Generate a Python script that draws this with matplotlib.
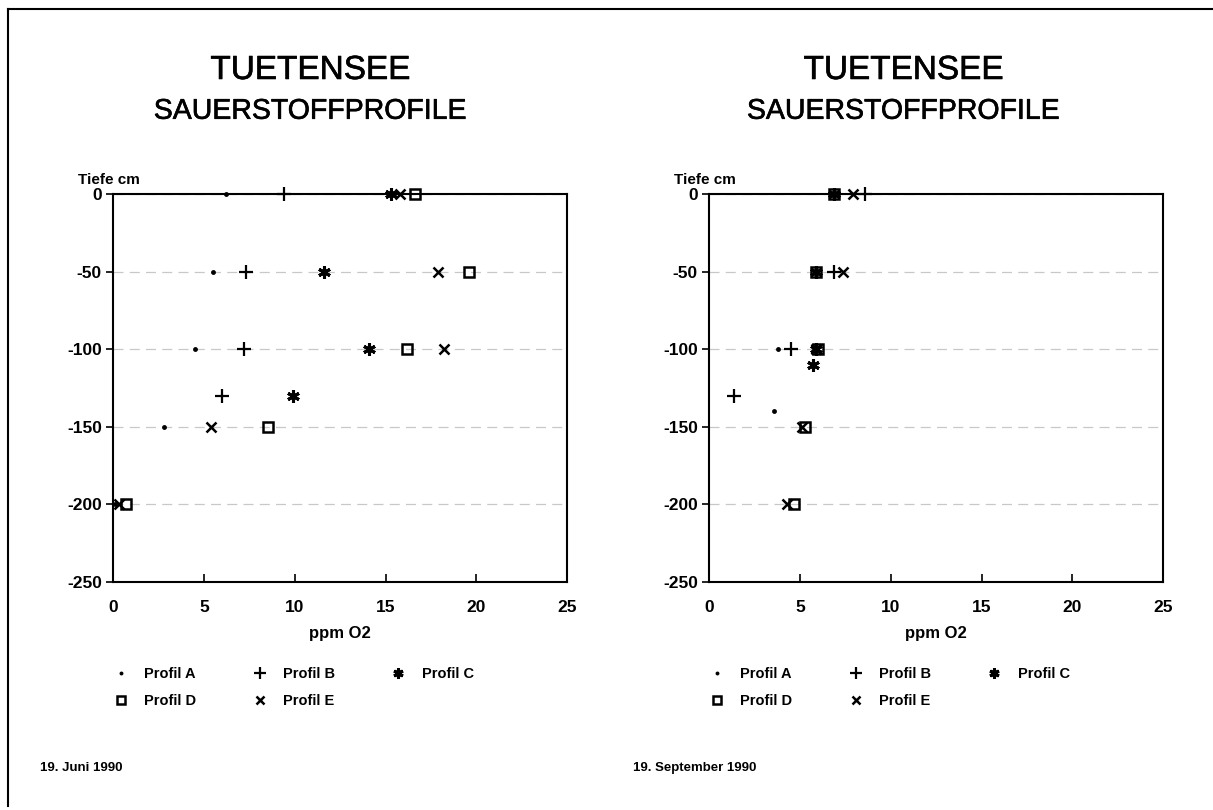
import matplotlib.pyplot as plt
import matplotlib.patheffects as pe
from matplotlib.lines import Line2D

plt.rcParams['font.family'] = ['Liberation Sans', 'DejaVu Sans']

# Daten: Tiefe (cm) und Sauerstoff (ppm O2), 19. Juni 1990
juni_A_tiefe = [0, -50, -100, -150, -200]
juni_A_o2 = [6.2, 5.5, 4.5, 2.8, 0.1]
juni_B_tiefe = [0, -50, -100, -130]
juni_B_o2 = [9.4, 7.3, 7.2, 6.0]
juni_C_tiefe = [0, -50, -100, -130]
juni_C_o2 = [15.3, 11.6, 14.1, 9.9]
juni_D_tiefe = [0, -50, -100, -150, -200]
juni_D_o2 = [16.6, 19.6, 16.2, 8.5, 0.7]
juni_E_tiefe = [0, -50, -100, -150, -200]
juni_E_o2 = [15.8, 17.9, 18.2, 5.4, 0.3]

# 19. September 1990
sept_A_tiefe = [0, -50, -100, -140]
sept_A_o2 = [6.9, 5.9, 3.8, 3.6]
sept_B_tiefe = [0, -50, -100, -130]
sept_B_o2 = [8.6, 6.9, 4.5, 1.4]
sept_C_tiefe = [0, -50, -100, -110]
sept_C_o2 = [6.9, 5.9, 5.9, 5.7]
sept_D_tiefe = [0, -50, -100, -150, -200]
sept_D_o2 = [6.9, 5.9, 6.0, 5.3, 4.7]
sept_E_tiefe = [0, -50, -100, -150, -200]
sept_E_o2 = [7.9, 7.4, 5.9, 5.1, 4.3]

profile_namen = ['Profil A', 'Profil B', 'Profil C', 'Profil D', 'Profil E']
y_ticks = [0, -50, -100, -150, -200, -250]
x_ticks = [0, 5, 10, 15, 20, 25]

juni = [(juni_A_o2, juni_A_tiefe), (juni_B_o2, juni_B_tiefe), (juni_C_o2, juni_C_tiefe),
        (juni_D_o2, juni_D_tiefe), (juni_E_o2, juni_E_tiefe)]
sept = [(sept_A_o2, sept_A_tiefe), (sept_B_o2, sept_B_tiefe), (sept_C_o2, sept_C_tiefe),
        (sept_D_o2, sept_D_tiefe), (sept_E_o2, sept_E_tiefe)]

# Markerstile fuer A..E
stile = [
    dict(marker='o', ms=3.5, mfc='black', mec='black', mew=0),
    dict(marker='+', ms=10, mec='black', mew=1.6),
    dict(marker=(6, 2, 0), ms=9, mec='black', mew=2.2),
    dict(marker='s', ms=7.5, mfc='none', mec='black', mew=1.8),
    dict(marker='x', ms=7, mec='black', mew=1.8),
]

# etwas kraeftigere Titelschrift
dick = [pe.withStroke(linewidth=0.45, foreground='black')]

fig = plt.figure(figsize=(12.13, 8.10), dpi=100)

# Rahmen
fig.add_artist(Line2D([0.0066, 0.0066], [0.005, 0.989], color='black', lw=1.5, transform=fig.transFigure))
fig.add_artist(Line2D([0.0066, 0.999], [0.989, 0.989], color='black', lw=1.5, transform=fig.transFigure))


def panel(left, daten, datum, titel_x, datum_x):
    ax = fig.add_axes([left, 0.2815, 0.3745, 0.479])
    handles = []
    for (x, y), st in zip(daten, stile):
        h, = ax.plot(x, y, ls='none', color='black', clip_on=False, zorder=3, **st)
        handles.append(h)
    ax.set_xlim(0, 25)
    ax.set_ylim(-250, 0)
    ax.set_xticks(x_ticks)
    ax.set_yticks(y_ticks)
    ax.set_xticklabels([str(v) for v in x_ticks], fontsize=12.5, fontweight='bold')
    ax.set_yticklabels([str(v) for v in y_ticks], fontsize=12.5, fontweight='bold')
    ax.tick_params(axis='x', direction='in', length=6, width=1.2, pad=13)
    ax.tick_params(axis='y', direction='out', length=5, width=1.2, pad=3)
    for s in ax.spines.values():
        s.set_linewidth(1.5)
    ax.yaxis.grid(True, color='#c8c8c8', lw=0.9, ls=(0, (8, 5)))
    ax.set_axisbelow(True)
    ax.set_xlabel('ppm O2', fontsize=12, fontweight='bold', labelpad=8)
    ax.text(-0.077, 1.036, 'Tiefe cm', transform=ax.transAxes, fontsize=11,
            fontweight='bold', ha='left', va='center')

    fig.text(titel_x, 0.913, 'TUETENSEE', fontsize=24, ha='center', va='center',
             path_effects=dick)
    fig.text(titel_x, 0.862, 'SAUERSTOFFPROFILE', fontsize=20.5, ha='center', va='center',
             path_effects=dick)
    fig.text(datum_x, 0.052, datum, fontsize=9.5, fontweight='bold', ha='left', va='center')

    # Legende zeilenweise: A B C / D E
    order = [0, 3, 1, 4, 2]
    ax.legend([handles[i] for i in order], [profile_namen[i] for i in order],
              ncol=3, loc='upper left', bbox_to_anchor=(-0.028, -0.185),
              frameon=False, prop=dict(size=10.5, weight='bold'),
              handlelength=1.0, handletextpad=1.1, columnspacing=3.85,
              labelspacing=0.9, markerscale=0.8)
    return ax


panel(0.0932, juni, '19. Juni 1990', 0.256, 0.033)
panel(0.5845, sept, '19. September 1990', 0.745, 0.522)

fig.savefig('out.png', dpi=100)
